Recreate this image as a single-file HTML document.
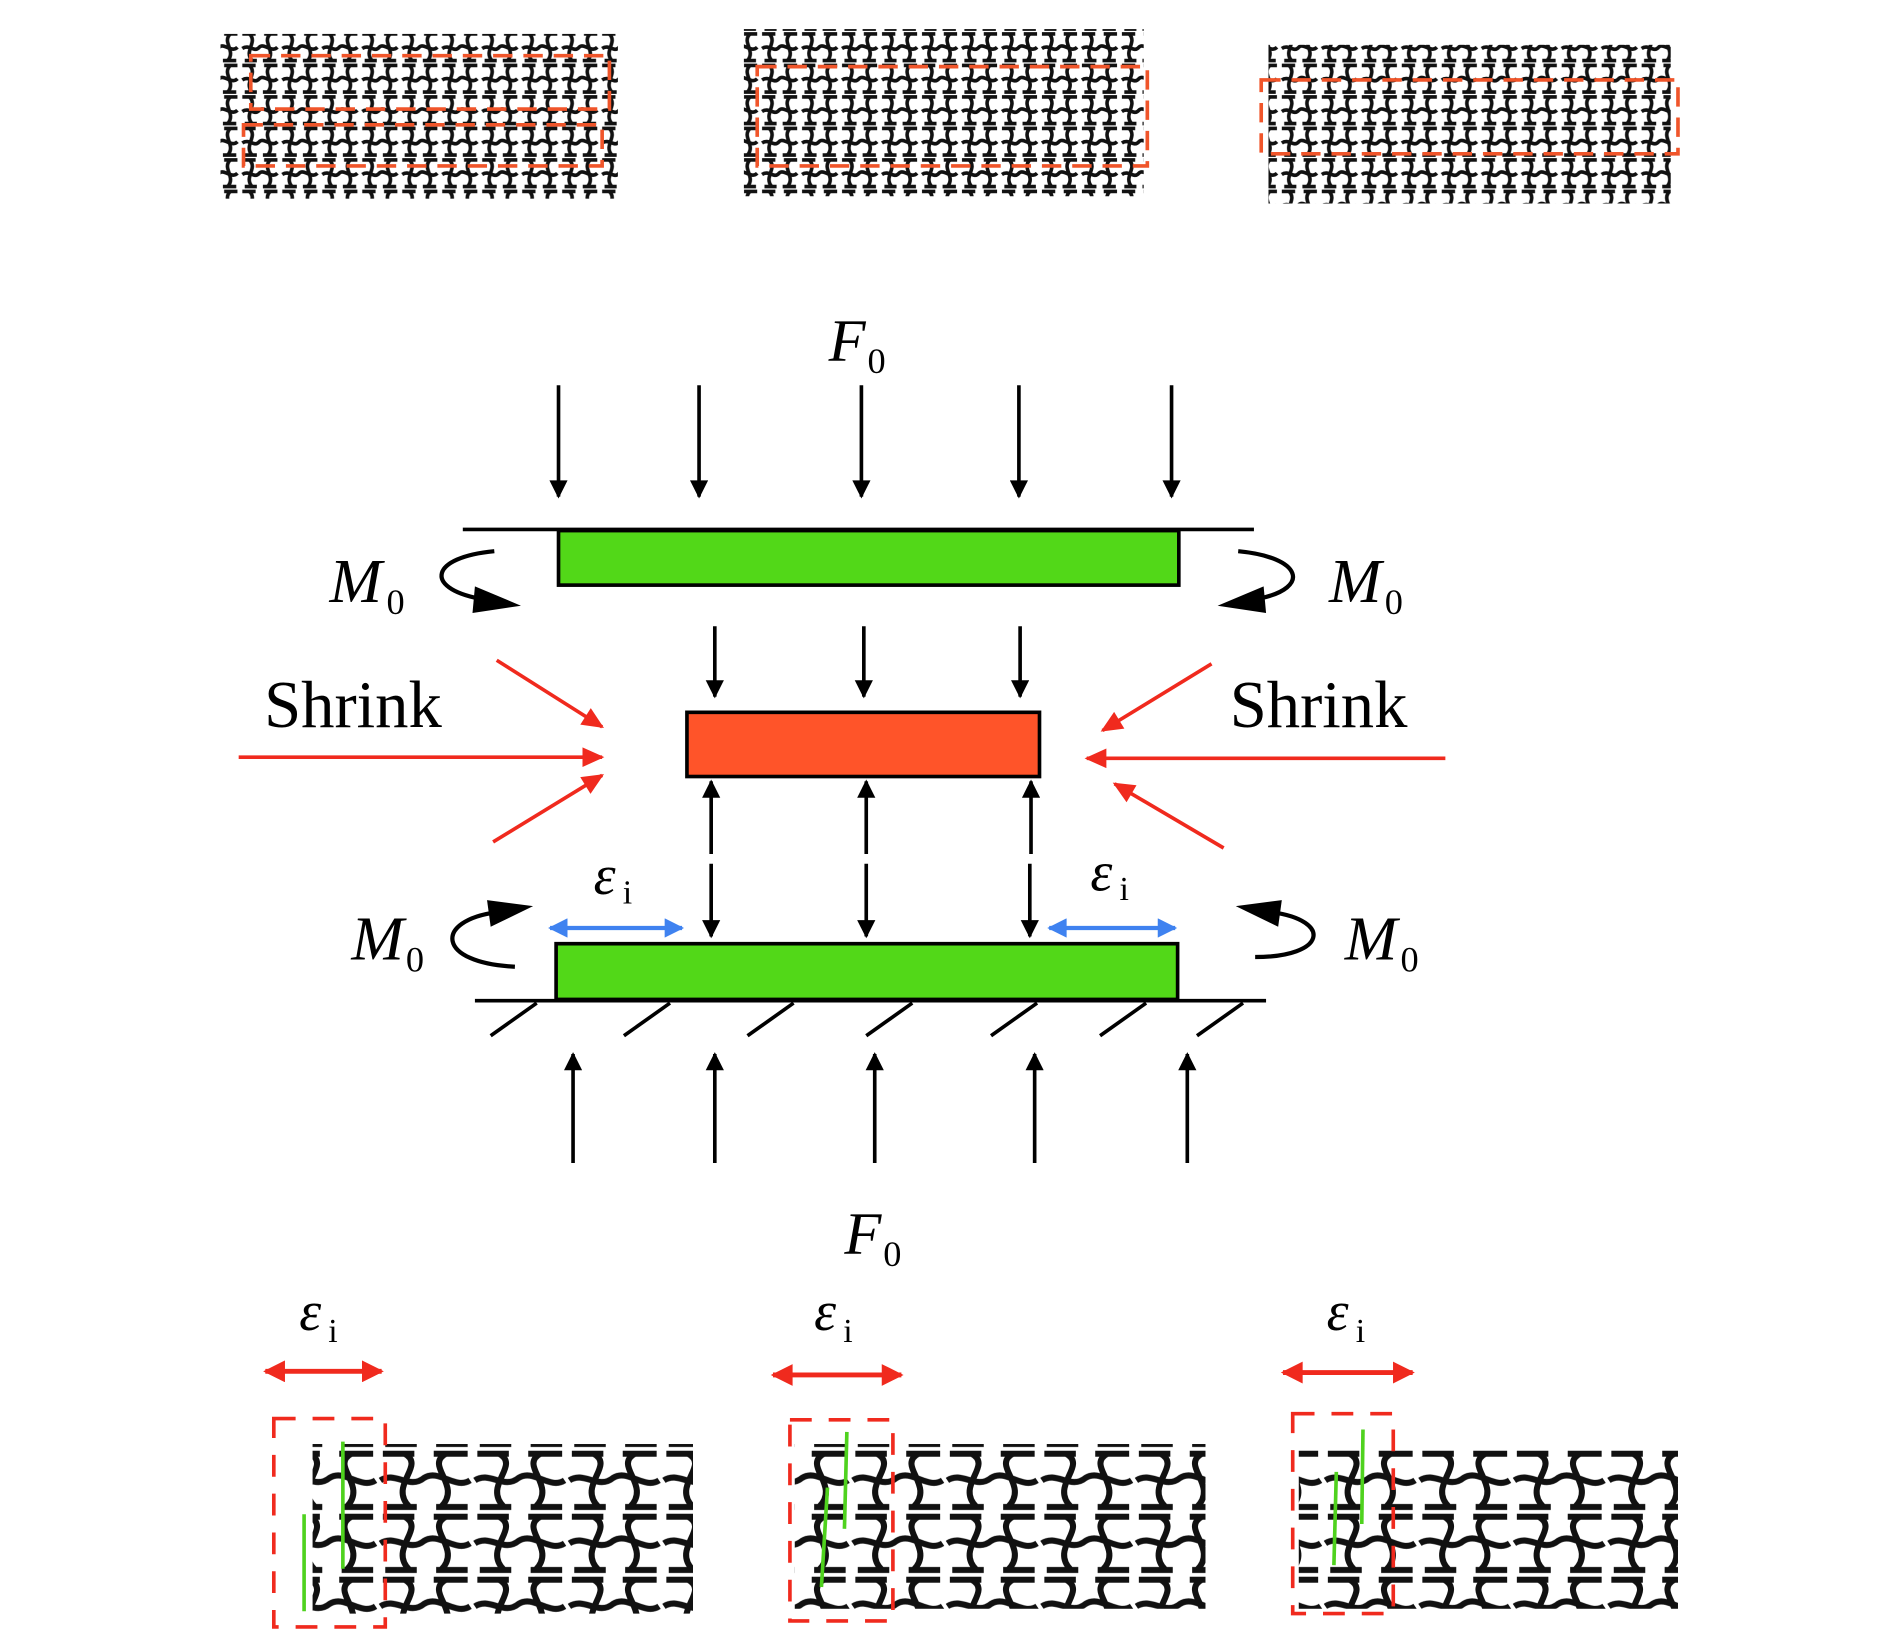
<!DOCTYPE html>
<html><head><meta charset="utf-8"><style>
html,body{margin:0;padding:0;background:#fff;}
svg{display:block;}
text{font-family:"Liberation Serif",serif;}
</style></head><body>
<svg width="1890" height="1633" viewBox="0 0 1560 1348" preserveAspectRatio="none" xmlns="http://www.w3.org/2000/svg">
<defs>
<pattern id="pa" width="33" height="26" patternUnits="userSpaceOnUse">
<g fill="none" stroke="#111" stroke-width="3">
<path d="M2,2 L13,2 M20,2 L31,2"/>
<path d="M8,2 C15,9 3,16 10,24"/>
<path d="M25,2 C18,9 30,16 23,24"/>
<path d="M2,14 C8,10 12,18 16,13 C20,9 26,18 31,13"/>
<path d="M4,24 L14,24 M19,24 L30,24"/>
</g></pattern>
<pattern id="pb" width="78" height="52" patternUnits="userSpaceOnUse">
<g fill="none" stroke="#111" stroke-width="5">
<path d="M4,4 L30,4 M46,4 L74,4"/>
<path d="M22,4 C40,14 8,30 26,48"/>
<path d="M56,4 C38,14 70,30 52,48"/>
<path d="M2,26 C14,18 26,34 38,24 C50,16 64,34 76,26"/>
<path d="M6,48 L32,48 M48,48 L74,48"/>
</g></pattern>
<marker id="akb" viewBox="0 0 10 10" refX="9" refY="5" markerWidth="30" markerHeight="15" markerUnits="userSpaceOnUse" orient="auto"><path d="M0,0 L10,5 L0,10 Z" fill="#000"/></marker>
<marker id="ar" viewBox="0 0 10 10" refX="9" refY="5" markerWidth="28" markerHeight="18" markerUnits="userSpaceOnUse" orient="auto"><path d="M0,0.5 L10,5 L0,9.5 Z" fill="#f02a1e"/></marker>
<marker id="abl" viewBox="0 0 10 10" refX="9" refY="5" markerWidth="24" markerHeight="16" markerUnits="userSpaceOnUse" orient="auto-start-reverse"><path d="M0,0 L10,5 L0,10 Z" fill="#3f82f0"/></marker>
<marker id="ard" viewBox="0 0 10 10" refX="9" refY="5" markerWidth="26" markerHeight="18" markerUnits="userSpaceOnUse" orient="auto-start-reverse"><path d="M0,0 L10,5 L0,10 Z" fill="#f02a1e"/></marker>
</defs>

<rect x="182" y="28" width="328" height="136" fill="url(#pa)"/>
<rect x="614" y="24" width="330" height="138" fill="url(#pa)"/>
<rect x="1047" y="37" width="332" height="131" fill="url(#pa)"/>
<g fill="none" stroke="#f0552a" stroke-width="3" stroke-dasharray="16,9">
<rect x="207" y="46" width="296" height="44"/>
<rect x="201" y="103" width="296" height="34"/>
<rect x="625" y="55" width="322" height="82"/>
<rect x="1041" y="66" width="344" height="61"/>
</g>

<text x="684" y="298" font-size="50" font-style="italic">F</text>
<text x="716" y="308" font-size="30">0</text>
<g stroke="#000" stroke-width="3">
<line x1="461" y1="318" x2="461" y2="410" marker-end="url(#akb)"/>
<line x1="577" y1="318" x2="577" y2="410" marker-end="url(#akb)"/>
<line x1="711" y1="318" x2="711" y2="410" marker-end="url(#akb)"/>
<line x1="841" y1="318" x2="841" y2="410" marker-end="url(#akb)"/>
<line x1="967" y1="318" x2="967" y2="410" marker-end="url(#akb)"/>
</g>
<line x1="382" y1="437" x2="1035" y2="437" stroke="#000" stroke-width="3"/>
<rect x="461" y="438" width="512" height="45" fill="#52d818" stroke="#000" stroke-width="3"/>

<text x="272" y="497" font-size="52" font-style="italic">M</text>
<text x="319" y="507" font-size="30">0</text>
<path d="M408,455 C355,460 350,485 395,494" fill="none" stroke="#000" stroke-width="3.5"/>
<path d="M392,484 L430,500 L390,506 Z" fill="#000"/>
<text x="1097" y="497" font-size="52" font-style="italic">M</text>
<text x="1143" y="507" font-size="30">0</text>
<path d="M1022,455 C1075,460 1082,485 1040,494" fill="none" stroke="#000" stroke-width="3.5"/>
<path d="M1043,484 L1005,500 L1045,506 Z" fill="#000"/>

<g stroke="#000" stroke-width="3">
<line x1="590" y1="517" x2="590" y2="575" marker-end="url(#akb)"/>
<line x1="713" y1="517" x2="713" y2="575" marker-end="url(#akb)"/>
<line x1="842" y1="517" x2="842" y2="575" marker-end="url(#akb)"/>
</g>
<rect x="567" y="588" width="291" height="53" fill="#ff5429" stroke="#000" stroke-width="3"/>

<text x="218" y="600" font-size="55">Shrink</text>
<text x="1015" y="600" font-size="55">Shrink</text>
<g stroke="#f02a1e" stroke-width="3">
<line x1="197" y1="625" x2="497" y2="625" marker-end="url(#ar)"/>
<line x1="410" y1="545" x2="497" y2="600" marker-end="url(#ar)"/>
<line x1="407" y1="695" x2="497" y2="640" marker-end="url(#ar)"/>
<line x1="1193" y1="626" x2="897" y2="626" marker-end="url(#ar)"/>
<line x1="1000" y1="548" x2="910" y2="603" marker-end="url(#ar)"/>
<line x1="1010" y1="700" x2="920" y2="647" marker-end="url(#ar)"/>
</g>

<g stroke="#000" stroke-width="3">
<line x1="587" y1="705" x2="587" y2="645" marker-end="url(#akb)"/>
<line x1="715" y1="705" x2="715" y2="645" marker-end="url(#akb)"/>
<line x1="851" y1="705" x2="851" y2="645" marker-end="url(#akb)"/>
<line x1="587" y1="713" x2="587" y2="773" marker-end="url(#akb)"/>
<line x1="715" y1="713" x2="715" y2="773" marker-end="url(#akb)"/>
<line x1="850" y1="713" x2="850" y2="773" marker-end="url(#akb)"/>
</g>

<text x="490" y="738" font-size="46" font-style="italic">ε</text>
<text x="514" y="746" font-size="28">i</text>
<text x="900" y="735" font-size="46" font-style="italic">ε</text>
<text x="924" y="743" font-size="28">i</text>
<g stroke="#3f82f0" stroke-width="3.5">
<line x1="454" y1="766" x2="563" y2="766" marker-start="url(#abl)" marker-end="url(#abl)"/>
<line x1="866" y1="766" x2="970" y2="766" marker-start="url(#abl)" marker-end="url(#abl)"/>
</g>

<text x="290" y="792" font-size="52" font-style="italic">M</text>
<text x="335" y="802" font-size="30">0</text>
<path d="M425,798 C360,795 358,760 410,753" fill="none" stroke="#000" stroke-width="3.5"/>
<path d="M402,743 L440,748 L405,765 Z" fill="#000"/>
<text x="1110" y="792" font-size="52" font-style="italic">M</text>
<text x="1156" y="802" font-size="30">0</text>
<path d="M1036,790 C1095,790 1100,760 1050,753" fill="none" stroke="#000" stroke-width="3.5"/>
<path d="M1058,743 L1020,748 L1055,765 Z" fill="#000"/>

<rect x="459" y="779" width="513" height="46" fill="#52d818" stroke="#000" stroke-width="3"/>
<line x1="392" y1="826" x2="1045" y2="826" stroke="#000" stroke-width="3"/>
<g stroke="#000" stroke-width="3">
<line x1="405" y1="855" x2="443" y2="828"/>
<line x1="515" y1="855" x2="553" y2="828"/>
<line x1="617" y1="855" x2="655" y2="828"/>
<line x1="715" y1="855" x2="753" y2="828"/>
<line x1="818" y1="855" x2="856" y2="828"/>
<line x1="908" y1="855" x2="946" y2="828"/>
<line x1="988" y1="855" x2="1026" y2="828"/>
</g>
<g stroke="#000" stroke-width="3">
<line x1="473" y1="960" x2="473" y2="870" marker-end="url(#akb)"/>
<line x1="590" y1="960" x2="590" y2="870" marker-end="url(#akb)"/>
<line x1="722" y1="960" x2="722" y2="870" marker-end="url(#akb)"/>
<line x1="854" y1="960" x2="854" y2="870" marker-end="url(#akb)"/>
<line x1="980" y1="960" x2="980" y2="870" marker-end="url(#akb)"/>
</g>
<text x="697" y="1035" font-size="50" font-style="italic">F</text>
<text x="729" y="1045" font-size="30">0</text>

<rect x="258" y="1192" width="314" height="140" fill="url(#pb)"/>
<rect x="656" y="1192" width="339" height="136" fill="url(#pb)"/>
<rect x="1072" y="1196" width="313" height="132" fill="url(#pb)"/>
<rect x="226" y="1172" width="30" height="170" fill="#fff"/>
<g font-size="46">
<text x="247" y="1098" font-style="italic">ε</text><text x="271" y="1108" font-size="28">i</text>
<text x="672" y="1098" font-style="italic">ε</text><text x="696" y="1108" font-size="28">i</text>
<text x="1095" y="1098" font-style="italic">ε</text><text x="1119" y="1108" font-size="28">i</text>
</g>
<g stroke="#f02a1e" stroke-width="4">
<line x1="219" y1="1132" x2="315" y2="1132" marker-start="url(#ard)" marker-end="url(#ard)"/>
<line x1="638" y1="1135" x2="744" y2="1135" marker-start="url(#ard)" marker-end="url(#ard)"/>
<line x1="1059" y1="1133" x2="1166" y2="1133" marker-start="url(#ard)" marker-end="url(#ard)"/>
</g>
<g fill="none" stroke="#f02a1e" stroke-width="3" stroke-dasharray="18,14">
<rect x="226" y="1171" width="92" height="172"/>
<rect x="652" y="1172" width="85" height="166"/>
<rect x="1067" y="1167" width="83" height="165"/>
</g>
<g stroke="#4fd21e" stroke-width="3">
<line x1="283" y1="1190" x2="283" y2="1295"/>
<line x1="251" y1="1250" x2="251" y2="1330"/>
<line x1="699" y1="1182" x2="697" y2="1262"/>
<line x1="683" y1="1228" x2="678" y2="1310"/>
<line x1="1125" y1="1180" x2="1124" y2="1258"/>
<line x1="1103" y1="1215" x2="1101" y2="1292"/>
</g>
</svg>
</body></html>
